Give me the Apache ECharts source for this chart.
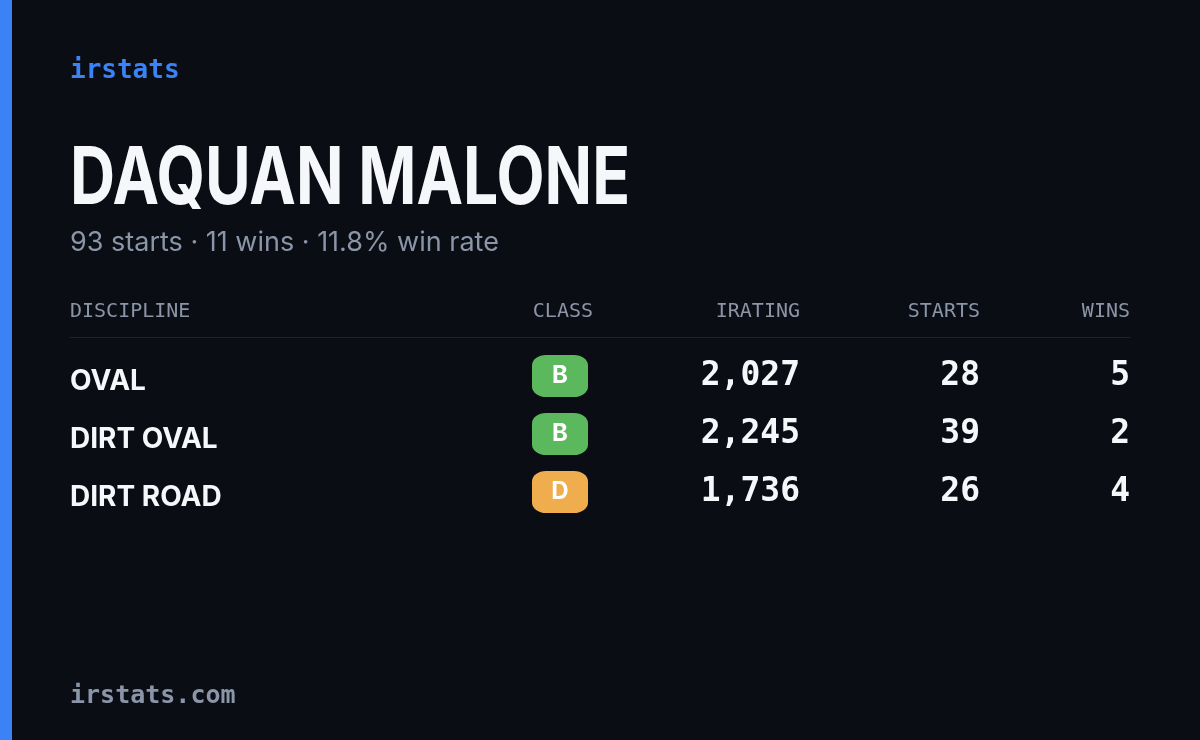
<!DOCTYPE html>
<html><head><meta charset="utf-8">
<script src="https://cdn.jsdelivr.net/npm/echarts@6/dist/echarts.min.js"></script>
<style>html,body{margin:0;background:#0a0d14}#c{width:1200px;height:740px}</style>
</head><body><div id="c"></div>
<script>
const disciplines = ['OVAL', 'DIRT OVAL', 'DIRT ROAD'];
const classes = ['B', 'B', 'D'];
const iratings = [2027, 2245, 1736];
const starts = [28, 39, 26];
const wins = [5, 2, 4];
const headers = ['DISCIPLINE', 'CLASS', 'IRATING', 'STARTS', 'WINS'];
const playerName = 'DAQUAN MALONE';
const subtitle = '93 starts · 11 wins · 11.8% win rate';

const classColor = {B: '#5cb85c', D: '#f0ad4e', A: '#3b82f6', C: '#f59e0b'};
const colX = {name: 70, cls: 560, ir: 800, st: 980, wn: 1130};
const mono = 'DejaVu Sans Mono';
const chart = echarts.init(document.getElementById('c'));
const fmt = n => n.toLocaleString('en-US');

function textSeries(x, vals, opts) {
  return {
    type: 'scatter', symbolSize: 0, silent: true,
    itemStyle: {opacity: 1},
    data: vals.map((v, i) => [x, disciplines[i], v]),
    label: Object.assign({show: true, position: 'inside', formatter: p => p.data[2]}, opts)
  };
}
chart.setOption({
  backgroundColor: '#0a0d14',
  animation: false,
  grid: {left: 0, right: 0, top: 347, height: 174},
  xAxis: {type: 'value', min: 0, max: 1200, show: false},
  yAxis: {type: 'category', data: disciplines, inverse: true, show: false},
  series: [
    textSeries(colX.name, disciplines, {align: 'left', color: '#f5f7fa', fontSize: 28, fontWeight: 'bold', fontFamily: 'Inter', offset: [0, 6]}),
    {
      type: 'scatter', symbol: 'roundRect', symbolSize: [56, 42], silent: true,
      itemStyle: {opacity: 1},
      data: classes.map((c, i) => ({value: [colX.cls, disciplines[i], c], itemStyle: {color: classColor[c]}})),
      label: {show: true, position: 'inside', formatter: p => p.data.value[2], color: '#fff', fontSize: 24, fontWeight: 'bold', fontFamily: 'Inter'}
    },
    textSeries(colX.ir, iratings.map(fmt), {align: 'right', color: '#f5f7fa', fontSize: 33, fontWeight: 'bold', fontFamily: mono}),
    textSeries(colX.st, starts, {align: 'right', color: '#f5f7fa', fontSize: 33, fontWeight: 'bold', fontFamily: mono}),
    textSeries(colX.wn, wins, {align: 'right', color: '#f5f7fa', fontSize: 33, fontWeight: 'bold', fontFamily: mono})
  ],
  graphic: [
    {type: 'rect', shape: {x: 0, y: 0, width: 12, height: 740}, style: {fill: '#3b82f6'}},
    {type: 'text', x: 70, y: 58, style: {text: 'irstats', fill: '#3b82f6', font: 'bold 26px "DejaVu Sans Mono"'}},
    {type: 'text', x: 70, y: 140, scaleX: 0.78, style: {text: playerName, fill: '#f5f7fa', font: 'bold 80px "Inter"'}},
    {type: 'text', x: 70, y: 229, style: {text: subtitle, fill: '#8b95a8', font: '27px "Inter"'}},
    ...headers.map((h, i) => {
      const xs = [colX.name, colX.cls + 33, colX.ir, colX.st, colX.wn];
      return {type: 'text', x: xs[i], y: 302, style: {text: h, fill: '#8b95a8', font: '500 20px "DejaVu Sans Mono"', textAlign: i === 0 ? 'left' : 'right'}};
    }),
    {type: 'rect', shape: {x: 70, y: 337, width: 1060, height: 1}, style: {fill: '#1f2530'}},
    {type: 'text', x: 70, y: 684, style: {text: 'irstats.com', fill: '#8b95a8', font: 'bold 25px "DejaVu Sans Mono"'}}
  ]
});
</script></body></html>
